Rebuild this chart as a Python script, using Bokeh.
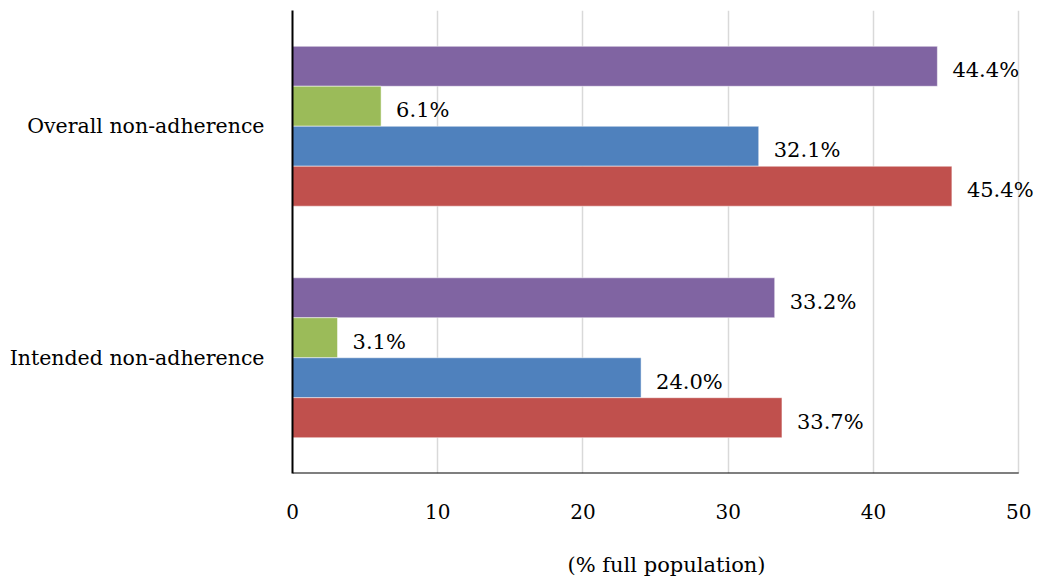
from bokeh.plotting import figure
from bokeh.models import ColumnDataSource, FactorRange
from bokeh.transform import dodge
from bokeh.core.properties import value
from bokeh.embed import file_html
from bokeh.resources import INLINE

# Categories (bottom to top) and series values in percent
categories = ["Intended non-adherence", "Overall non-adherence"]
purple_vals = [33.2, 44.4]
green_vals = [3.1, 6.1]
blue_vals = [24.0, 32.1]
red_vals = [33.7, 45.4]
x_ticks = [0, 10, 20, 30, 40, 50]
x_max = 50

FONT = "DejaVu Serif"

p = figure(
    width=1043, height=583,
    y_range=FactorRange(factors=categories, range_padding=0),
    x_range=(0, 51.5),
    output_backend="svg", toolbar_location=None,
    min_border_left=292, min_border_right=3,
    min_border_top=10, min_border_bottom=110,
)

series = [
    ("purple", purple_vals, "#8064A2", 0.259),
    ("green", green_vals, "#9BBB59", 0.0864),
    ("blue", blue_vals, "#4F81BD", -0.0864),
    ("red", red_vals, "#C0504D", -0.259),
]

for name, vals, color, off in series:
    src = ColumnDataSource(dict(
        cat=categories, val=vals,
        lab=[f"{v:.1f}%" for v in vals],
    ))
    p.hbar(y=dodge("cat", off, range=p.y_range), right="val", left=0,
           height=0.1728, source=src, fill_color=color,
           line_color="white", line_alpha=0.5, line_width=1)
    p.text(x="val", y=dodge("cat", off, range=p.y_range), text="lab",
           source=src, x_offset=15, y_offset=4,
           text_font=value(FONT), text_font_size="21px",
           text_baseline="middle", text_align="left", text_color="black")

# x axis line drawn only across the 0-50 scale
p.segment(x0=[0], y0=[0], x1=[x_max], y1=[0], line_color="black", line_width=2)

p.outline_line_color = None
p.ygrid.grid_line_color = None
p.xgrid.grid_line_color = "#d9d9d9"
p.xgrid.grid_line_width = 1.5
p.xaxis.ticker = x_ticks

for ax in (p.xaxis, p.yaxis):
    ax.axis_line_color = "black"
    ax.axis_line_width = 2
    ax.major_tick_line_color = None
    ax.minor_tick_line_color = None
    ax.major_label_text_font = FONT
    ax.major_label_text_color = "black"
p.xaxis.axis_line_color = None
p.yaxis.major_label_text_font_size = "20.5px"
p.xaxis.major_label_text_font_size = "20px"

p.xaxis.major_label_standoff = 24
p.yaxis.major_label_standoff = 22
p.xaxis.axis_label = "(% full population)"
p.xaxis.axis_label_text_font = FONT
p.xaxis.axis_label_text_font_size = "21px"
p.xaxis.axis_label_text_font_style = "normal"
p.xaxis.axis_label_text_color = "black"
p.xaxis.axis_label_standoff = 31

open("out.html", "w").write(file_html(p, INLINE))
